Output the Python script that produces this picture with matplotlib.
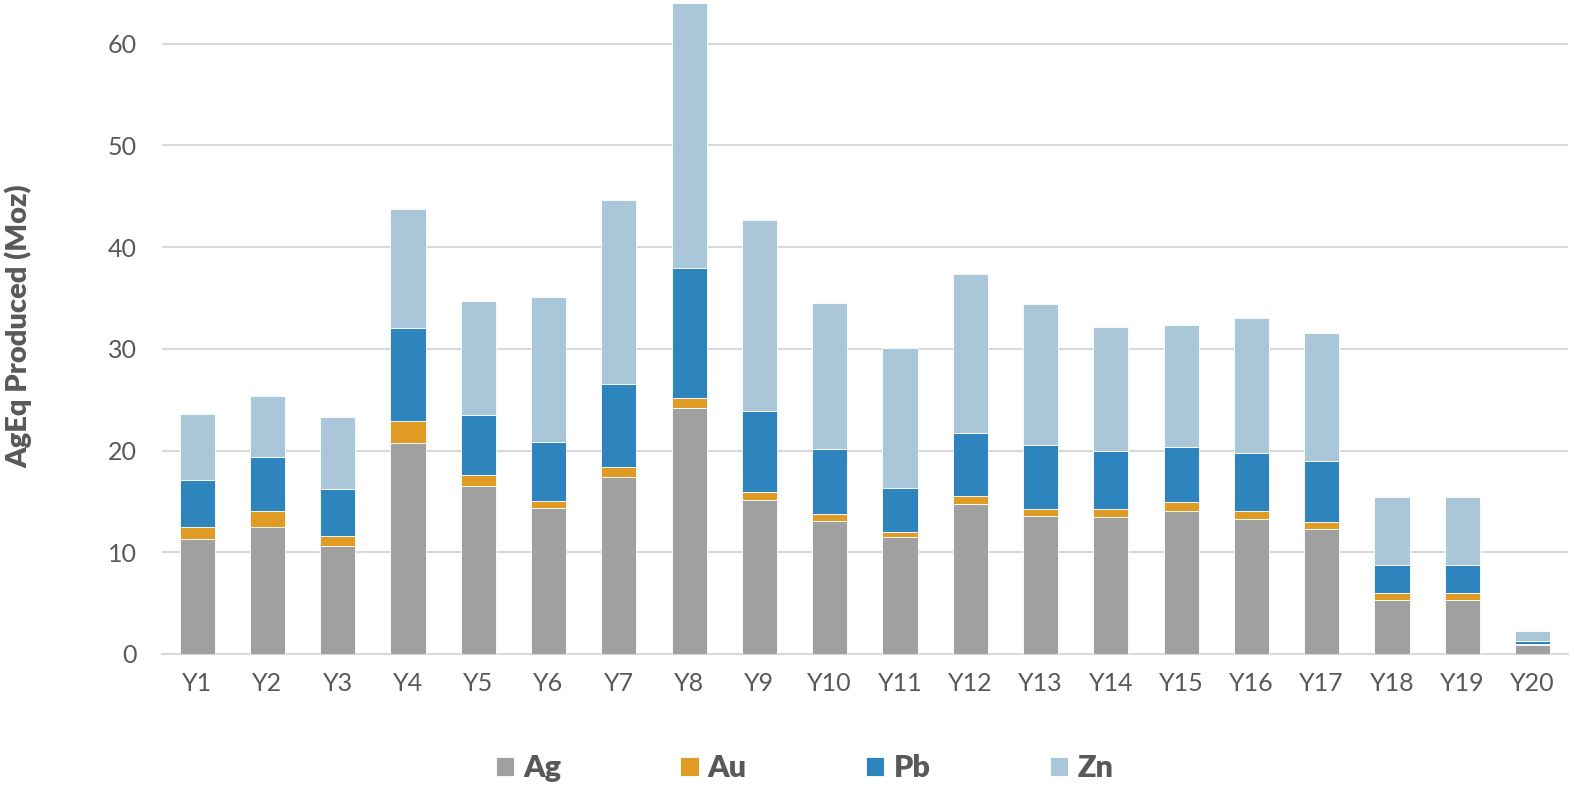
import matplotlib
matplotlib.use("Agg")
import matplotlib.pyplot as plt
import numpy as np

years = [f"Y{i}" for i in range(1, 21)]
ag = [11.33, 12.46, 10.65, 20.72, 16.49, 14.33, 17.40, 24.19, 15.14, 13.08,
      11.50, 14.75, 13.57, 13.47, 14.06, 13.27, 12.29, 5.34, 5.34, 0.88]
au = [1.16, 1.60, 0.92, 2.19, 1.11, 0.74, 0.99, 0.98, 0.79, 0.69,
      0.50, 0.79, 0.69, 0.79, 0.89, 0.79, 0.69, 0.63, 0.63, 0.07]
pb = [4.65, 5.34, 4.65, 9.14, 5.93, 5.78, 8.16, 12.80, 7.96, 6.39,
      4.32, 6.19, 6.29, 5.70, 5.40, 5.70, 6.00, 2.78, 2.78, 0.33]
zn = [6.43, 5.97, 7.05, 11.71, 11.17, 14.25, 18.09, 26.00, 18.78, 14.35,
      13.77, 15.63, 13.86, 12.19, 12.00, 13.28, 12.58, 6.69, 6.69, 0.98]

series = [("Ag", ag, "#A0A0A0"), ("Au", au, "#E09B24"),
          ("Pb", pb, "#2E84BC"), ("Zn", zn, "#A9C7D8")]

plt.rcParams['font.family'] = ['Lato', 'DejaVu Sans']
txt = "#595959"

fig = plt.figure(figsize=(15.74, 7.87), dpi=100)
ax = fig.add_axes([0.1029, 0.169, 0.8931, 0.831])

x = np.arange(len(years))
bottom = np.zeros(len(years))
for name, vals, col in series:
    v = np.array(vals)
    ax.bar(x, v, 0.5, bottom=bottom, color=col, label=name,
           edgecolor="white", linewidth=0.6, zorder=3)
    bottom += v

ax.set_xlim(-0.5, len(years) - 0.5)
ax.set_ylim(0, 64.3)
ax.set_yticks(range(0, 61, 10))
ax.set_xticks(x)
ax.set_xticklabels(years)
ax.yaxis.grid(True, color="#D9D9D9", linewidth=1.5, zorder=0)
ax.set_axisbelow(True)
for s in ["top", "right", "left"]:
    ax.spines[s].set_visible(False)
ax.spines["bottom"].set_color("#D9D9D9")
ax.spines["bottom"].set_linewidth(1.5)
ax.tick_params(axis="y", length=0, pad=18, labelsize=18, labelcolor=txt)
ax.tick_params(axis="x", length=0, pad=13, labelsize=18, labelcolor=txt)

fig.text(0.0115, 0.585, "AgEq Produced (Moz)", rotation=90, ha="center",
         va="center", fontsize=21, fontweight="heavy", color=txt)

leg = fig.legend(loc="center", bbox_to_anchor=(0.511, 0.024), ncol=4,
                 frameon=False, fontsize=22, handlelength=0.6,
                 handleheight=0.6, handletextpad=0.3, columnspacing=3.9)
for t in leg.get_texts():
    t.set_color(txt)
    t.set_fontweight("heavy")

fig.savefig("out.png", dpi=100)
